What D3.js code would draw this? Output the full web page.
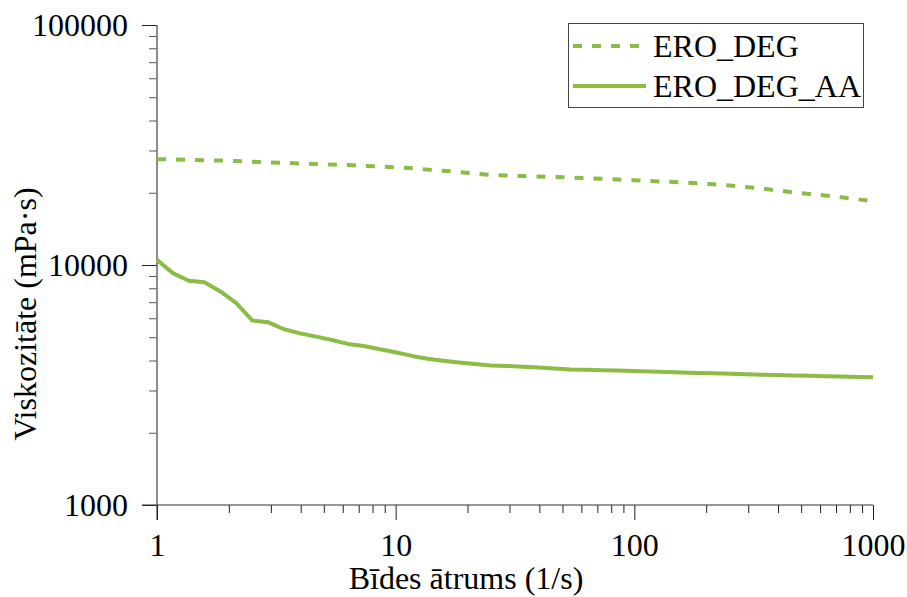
<!DOCTYPE html>
<html>
<head>
<meta charset="utf-8">
<script src="https://cdn.jsdelivr.net/npm/d3@7"></script>
<style>
  body { margin: 0; background: #fff; }
</style>
</head>
<body>
<div id="chart"></div>
<script>
// shear rate (1/s)
const shearRate = [1, 1.17, 1.36, 1.58, 1.85, 2.15, 2.51, 2.93, 3.41, 3.98, 4.64, 5.41, 6.31, 7.36, 8.58,
  10, 11.7, 13.6, 15.8, 18.5, 21.5, 25.1, 29.3, 34.1, 39.8, 46.4, 54.1, 63.1, 73.6, 85.8,
  100, 117, 136, 158, 185, 215, 251, 293, 341, 398, 464, 541, 631, 736, 858, 1000];

// viscosity (mPa·s)
const eroDeg = [27600, 27520, 27450, 27300, 27230, 27100, 26930, 26780, 26660, 26480, 26330, 26200, 26080, 25900, 25750,
  25530, 25300, 24970, 24690, 24400, 24020, 23720, 23580, 23460, 23380, 23260, 23150, 23020, 22870, 22690,
  22540, 22380, 22240, 22070, 21880, 21700, 21460, 21130, 20830, 20450, 20080, 19780, 19490, 19160, 18800, 18450];

const eroDegAA = [10500, 9230, 8600, 8480, 7740, 6930, 5870, 5770, 5400, 5190, 5030, 4870, 4690, 4600, 4455,
  4330, 4180, 4065, 3990, 3920, 3870, 3815, 3795, 3770, 3737, 3705, 3673, 3660, 3645, 3630,
  3620, 3603, 3582, 3568, 3550, 3537, 3520, 3505, 3490, 3480, 3467, 3453, 3440, 3427, 3418, 3408];

const seriesNames = ["ERO_DEG", "ERO_DEG_AA"];
const xMajor = [1, 10, 100, 1000];
const yMajor = [1000, 10000, 100000];

const w = 907, h = 597;
const padL = 157, padR = 873, padT = 25, padB = 505;
const green = "#8cbc46";
const serif = "'Liberation Serif', 'Times New Roman', Times, 'DejaVu Serif', serif";
const fs = 32;

const svg = d3.select("#chart").append("svg")
  .attr("width", w).attr("height", h)
  .attr("font-family", serif);

const x = d3.scaleLog().domain([1, 1000]).range([padL, padR]);
const y = d3.scaleLog().domain([1000, 100000]).range([padB, padT]);

// minor ticks 2..9 in each decade
const minors = (major) => {
  let out = [];
  major.slice(0, -1).forEach(m => { for (let k = 2; k < 10; k++) out.push(m * k); });
  return out;
};

// y axis
svg.append("g")
  .attr("transform", "translate(" + padL + ",0)")
  .call(d3.axisLeft(y).tickValues(minors(yMajor)).tickSize(8).tickFormat(""))
  .call(g => g.select(".domain").remove())
  .call(g => g.selectAll("line").attr("stroke", "#555"));

svg.append("g")
  .attr("transform", "translate(" + padL + ",0)")
  .call(d3.axisLeft(y).tickValues(yMajor).tickSize(15).tickPadding(14).tickFormat(d3.format("d")))
  .attr("font-family", serif)
  .call(g => g.select(".domain").remove())
  .call(g => g.selectAll("line").attr("stroke", "#222"))
  .call(g => g.selectAll("text").attr("font-size", fs).attr("fill", "#000").attr("dy", "0.34em"));

svg.append("line")
  .attr("x1", padL).attr("x2", padL)
  .attr("y1", padT).attr("y2", padB + 15)
  .attr("stroke", "#666").attr("stroke-width", 1.5);

// x axis
svg.append("g")
  .attr("transform", "translate(0," + padB + ")")
  .call(d3.axisBottom(x).tickValues(minors(xMajor)).tickSize(8).tickFormat(""))
  .call(g => g.select(".domain").remove())
  .call(g => g.selectAll("line").attr("stroke", "#222"));

svg.append("g")
  .attr("transform", "translate(0," + padB + ")")
  .call(d3.axisBottom(x).tickValues(xMajor).tickSize(15).tickPadding(14).tickFormat(d3.format("d")))
  .attr("font-family", serif)
  .call(g => g.select(".domain").remove())
  .call(g => g.selectAll("line").attr("stroke", "#222"))
  .call(g => g.selectAll("text").attr("font-size", fs).attr("fill", "#000").attr("dy", "0.68em"));

svg.append("line")
  .attr("x1", padL - 15).attr("x2", padR)
  .attr("y1", padB).attr("y2", padB)
  .attr("stroke", "#333").attr("stroke-width", 1.2);

// axis titles
svg.append("text")
  .attr("x", 466).attr("y", 589)
  .attr("text-anchor", "middle")
  .attr("font-size", fs)
  .text("Bīdes ātrums (1/s)");

svg.append("text")
  .attr("transform", "translate(36,314) rotate(-90)")
  .attr("text-anchor", "middle")
  .attr("font-size", fs)
  .text("Viskozitāte (mPa·s)");

// lines
const line = d3.line()
  .x((d, i) => x(shearRate[i]))
  .y(d => y(d));

svg.append("path")
  .datum(eroDeg)
  .attr("d", line)
  .attr("fill", "none")
  .attr("stroke", green)
  .attr("stroke-width", 4)
  .attr("stroke-dasharray", "9,10");

svg.append("path")
  .datum(eroDegAA)
  .attr("d", line)
  .attr("fill", "none")
  .attr("stroke", green)
  .attr("stroke-width", 4)
  .attr("stroke-linejoin", "round");

// legend
const legend = svg.append("g").attr("id", "legend");
legend.append("rect")
  .attr("x", 568.5).attr("y", 23.5)
  .attr("width", 295).attr("height", 84)
  .attr("fill", "#fff")
  .attr("stroke", "#444").attr("stroke-width", 1);

const legendRows = [
  { name: seriesNames[0], dash: "9,10", ly: 46, ty: 57, x2: 642 },
  { name: seriesNames[1], dash: null, ly: 86, ty: 97, x2: 646 }
];

legendRows.forEach(r => {
  legend.append("line")
    .attr("x1", 573).attr("x2", r.x2)
    .attr("y1", r.ly).attr("y2", r.ly)
    .attr("stroke", green).attr("stroke-width", 4)
    .attr("stroke-dasharray", r.dash);
  legend.append("text")
    .attr("x", 653).attr("y", r.ty)
    .attr("font-size", fs)
    .text(r.name);
});
</script>
</body>
</html>
